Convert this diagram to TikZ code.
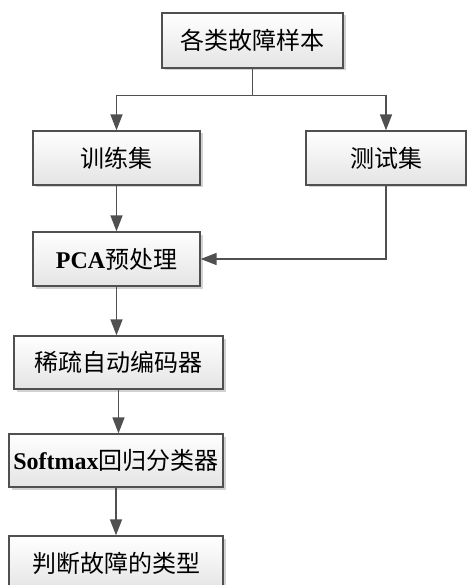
\documentclass[tikz,border=0pt]{standalone}
\usepackage{fontspec}
\setmainfont{Liberation Serif}
\newfontfamily\cjk{Noto Sans CJK SC}
\usetikzlibrary{arrows.meta,calc}
\definecolor{edgegray}{HTML}{505050}
\definecolor{shadegray}{HTML}{E4E4E4}
\tikzset{
  stepbox/.style={draw=edgegray, line width=1.3pt, top color=white, bottom color=shadegray,
    inner sep=0pt, font=\fontsize{24}{26}\selectfont\cjk},
  flow/.style={draw=edgegray, line width=1.6pt, -{Triangle[length=16pt,width=12pt]}},
  link/.style={draw=edgegray, line width=1.6pt},
}
% box with a soft drop shadow: name, centre, width, height, text
\newcommand{\flowbox}[5]{%
  \fill[gray!35] ($(#2)+(2.5,2.5)-(#3/2,#4/2)$) rectangle ++(#3,#4);
  \node[stepbox, minimum width=#3pt, minimum height=#4pt] (#1) at (#2) {#5};
}
\begin{document}
\begin{tikzpicture}[x=1pt,y=-1pt]
\useasboundingbox (0,0) rectangle (466,585);
\fill[white] (0,0) rectangle (466,585);

\flowbox{src}{252.5,40.5}{181}{55}{各类故障样本}
\flowbox{train}{116.5,158}{167}{54}{训练集}
\flowbox{test}{386,158}{160}{54}{测试集}
\flowbox{pca}{116.5,259}{167}{54}{{\rmfamily\bfseries PCA}预处理}
\flowbox{sae}{118.5,362.5}{209}{53}{稀疏自动编码器}
\flowbox{soft}{116,460.5}{214}{53}{{\rmfamily\bfseries Softmax}回归分类器}
\flowbox{judge}{116,563}{214}{54}{判断故障的类型}

\coordinate (split) at ($(src.south)+(0,27)$);
\draw[link] (src.south) -- (split);
\draw[flow] (split) -| (train.north);
\draw[flow] (split) -| (test.north);
\draw[flow] (train.south) -- (pca.north);
\draw[flow] (test.south) |- (pca.east);
\draw[flow] (pca.south) -- (pca.south |- sae.north);
\draw[flow] (sae.south) -- (sae.south |- soft.north);
\draw[flow] (soft.south) -- (soft.south |- judge.north);
\end{tikzpicture}
\end{document}
